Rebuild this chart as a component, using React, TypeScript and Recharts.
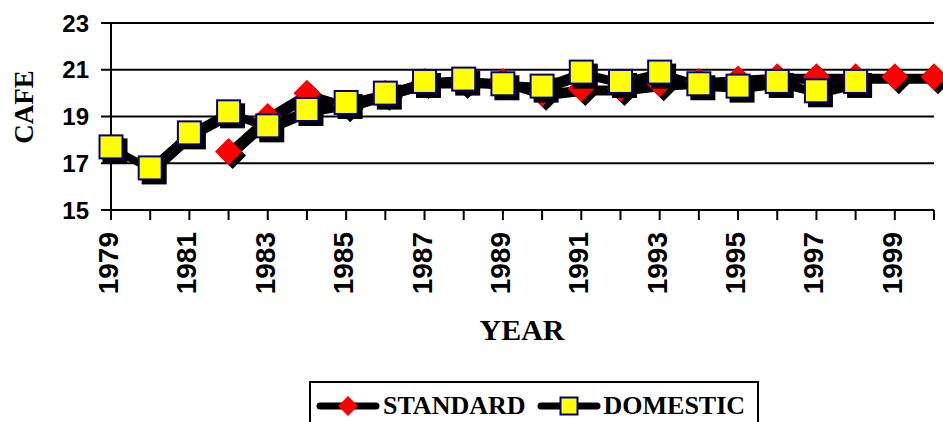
import React from 'react';
import { LineChart, Line, XAxis, YAxis, CartesianGrid } from 'recharts';

const years = [
  '1979', '1980', '1981', '1982', '1983', '1984', '1985', '1986', '1987', '1988', '1989',
  '1990', '1991', '1992', '1993', '1994', '1995', '1996', '1997', '1998', '1999', '2000',
];
const standard = [
  null, null, null, 17.5, 19.0, 20.0, 19.5, 20.0, 20.5, 20.5, 20.5,
  20.0, 20.2, 20.2, 20.4, 20.5, 20.6, 20.7, 20.7, 20.7, 20.7, 20.7,
];
const domestic = [
  17.7, 16.8, 18.3, 19.2, 18.6, 19.3, 19.6, 20.0, 20.5, 20.6, 20.4,
  20.3, 20.9, 20.5, 20.9, 20.4, 20.3, 20.5, 20.1, 20.5, null, null,
];
const yTicks = [15, 17, 19, 21, 23];

const data = years.map((year, i) => ({ year, standard: standard[i], domestic: domestic[i] }));

const SANS = '"Liberation Sans", Arial, sans-serif';
const SERIF = '"Liberation Serif", "Times New Roman", serif';

const Diamond = ({ cx, cy, r = 13.5 }: { cx: number; cy: number; r?: number }) => (
  <path d={`M${cx},${cy - r}L${cx + r},${cy}L${cx},${cy + r}L${cx - r},${cy}Z`} fill="#FF0000" />
);

const Square = ({ cx, cy, s = 23 }: { cx: number; cy: number; s?: number }) => (
  <rect x={cx - s / 2} y={cy - s / 2} width={s} height={s} fill="#FFFF00" stroke="#000080" strokeWidth={2} />
);

const standardDot = (props: any) => {
  const { cx, cy, value, index } = props;
  if (value == null || cy == null) return <g key={`s${index}`} />;
  return <Diamond key={`s${index}`} cx={cx} cy={cy} />;
};

const domesticDot = (props: any) => {
  const { cx, cy, value, index } = props;
  if (value == null || cy == null) return <g key={`d${index}`} />;
  return <Square key={`d${index}`} cx={cx} cy={cy} />;
};

const YearTick = (props: any) => {
  const { x, y, payload } = props;
  if ((Number(payload.value) - 1979) % 2 !== 0) return <g />;
  const tx = x + 7;
  const ty = y + 10;
  return (
    <text
      x={tx}
      y={ty}
      transform={`rotate(-90 ${tx} ${ty})`}
      textAnchor="end"
      fontFamily={SANS}
      fontWeight="bold"
      fontSize={28}
      fill="#000"
    >
      {payload.value}
    </text>
  );
};

const LegendIcon = ({ kind }: { kind: 'standard' | 'domestic' }) => (
  <svg width={64} height={30} style={{ display: 'block' }}>
    <line x1={4} y1={15} x2={60} y2={15} stroke="#000" strokeWidth={7} strokeLinecap="round" />
    {kind === 'standard' ? <Diamond cx={32} cy={15} r={10} /> : <Square cx={32} cy={15} s={17} />}
  </svg>
);

const ChartLegend = () => (
  <div
    style={{
      position: 'absolute',
      left: 309,
      top: 381,
      display: 'flex',
      alignItems: 'center',
      border: '2px solid #000',
      boxSizing: 'border-box',
      width: 450,
      height: 50,
      paddingLeft: 5,
      fontFamily: SERIF,
      fontWeight: 'bold',
      fontSize: 26,
      color: '#000',
    }}
  >
    <LegendIcon kind="standard" />
    <span style={{ marginLeft: 3 }}>STANDARD</span>
    <span style={{ marginLeft: 11 }} />
    <LegendIcon kind="domestic" />
    <span style={{ marginLeft: 3 }}>DOMESTIC</span>
  </div>
);

export default function App() {
  return (
    <div style={{ position: 'relative', width: 943, height: 422, overflow: 'hidden', background: '#fff' }}>
      <style>{`
        body { margin: 0; }
        .recharts-line-curve, .recharts-line-dots { filter: drop-shadow(4px 4px 0 #000); }
      `}</style>
      <LineChart width={943} height={422} data={data} margin={{ top: 23, right: 9, bottom: 0, left: 0 }}>
        <CartesianGrid horizontal vertical={false} stroke="#000" strokeWidth={2} strokeOpacity={1} />
        <XAxis
          dataKey="year"
          height={212}
          interval={0}
          tick={<YearTick />}
          tickSize={10}
          tickLine={{ stroke: '#000', strokeWidth: 2 }}
          axisLine={{ stroke: '#000', strokeWidth: 2 }}
          label={() => (
            <text x={522} y={340} textAnchor="middle" fontFamily={SERIF} fontWeight="bold" fontSize={30} fill="#000">
              YEAR
            </text>
          )}
        />
        <YAxis
          width={111}
          domain={[15, 23]}
          ticks={yTicks}
          interval={0}
          tickSize={10}
          tickMargin={12}
          tickLine={{ stroke: '#000', strokeWidth: 2 }}
          axisLine={{ stroke: '#000', strokeWidth: 2 }}
          tick={{ fill: '#000', fontFamily: SANS, fontWeight: 'bold', fontSize: 24 }}
          label={() => (
            <text
              x={33}
              y={107}
              transform="rotate(-90 33 107)"
              textAnchor="middle"
              fontFamily={SERIF}
              fontWeight="bold"
              fontSize={27}
              fill="#000"
            >
              CAFE
            </text>
          )}
        />
        <Line
          type="linear"
          dataKey="standard"
          stroke="#000"
          strokeWidth={6}
          dot={standardDot}
          activeDot={false}
          isAnimationActive={false}
        />
        <Line
          type="linear"
          dataKey="domestic"
          stroke="#000"
          strokeWidth={6}
          dot={domesticDot}
          activeDot={false}
          isAnimationActive={false}
        />
      </LineChart>
      <ChartLegend />
    </div>
  );
}
